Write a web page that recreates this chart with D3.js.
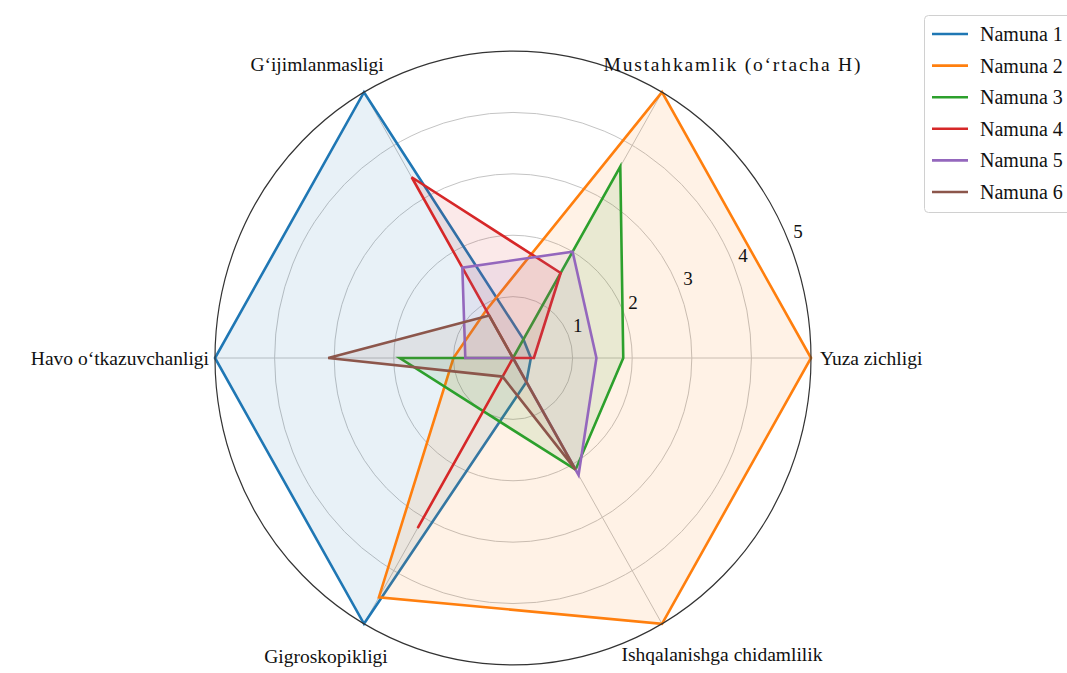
<!DOCTYPE html>
<html>
<head>
<meta charset="utf-8">
<script src="https://cdn.jsdelivr.net/npm/d3@7"></script>
<style>
  body { margin: 0; background: #fff; }
  text { font-family: "Liberation Serif", "Times New Roman", serif; fill: #111; }
</style>
</head>
<body>
<script>
// axes (counter-clockwise from the right)
var categories = ['Yuza zichligi', 'Mustahkamlik (o\u2018rtacha H)', 'G\u2018ijimlanmasligi',
                  'Havo o\u2018tkazuvchanligi', 'Gigroskopikligi', 'Ishqalanishga chidamlilik'];
var seriesNames = ['Namuna 1', 'Namuna 2', 'Namuna 3', 'Namuna 4', 'Namuna 5', 'Namuna 6'];
var namuna1 = [0.3, 0.35, 5, 5, 5, 0.45];
var namuna2 = [5, 5, 0.9, 1.0, 4.5, 5];
var namuna3 = [1.85, 3.6, 0, 1.9, 1.0, 2.1];
var namuna4 = [0.35, 1.6, 3.4, 0, 3.2, 0];
var namuna5 = [1.4, 2.0, 1.7, 0.8, 0, 2.2];
var namuna6 = [0, 0, 0.8, 3.1, 0.35, 2.1];
var ticks = [1, 2, 3, 4, 5];
var colors = ['#1f77b4', '#ff7f0e', '#2ca02c', '#d62728', '#9467bd', '#8c564b'];

var series = [namuna1, namuna2, namuna3, namuna4, namuna5, namuna6];

var w = 1067, h = 673,
    cx = 513, cy = 358,
    ky = 1.03; // picture is a little taller than wide

var svg = d3.select('body').append('svg')
  .attr('width', w).attr('height', h);

var r = d3.scaleLinear().domain([0, 5]).range([0, 298]);

function angle(i) { return i * Math.PI / 3; }
function px(v, i) { return cx + r(v) * Math.cos(angle(i)); }
function py(v, i) { return cy - r(v) * Math.sin(angle(i)) * ky; }

// grid
var grid = svg.append('g');
grid.selectAll('ellipse.ring')
  .data(ticks.slice(0, -1))
  .enter().append('ellipse')
  .attr('cx', cx).attr('cy', cy)
  .attr('rx', function(d) { return r(d); })
  .attr('ry', function(d) { return r(d) * ky; })
  .attr('fill', 'none')
  .attr('stroke', '#c4c4c4')
  .attr('stroke-width', 1);

grid.selectAll('line.spoke')
  .data(categories)
  .enter().append('line')
  .attr('x1', cx).attr('y1', cy)
  .attr('x2', function(d, i) { return px(5, i); })
  .attr('y2', function(d, i) { return py(5, i); })
  .attr('stroke', '#c4c4c4')
  .attr('stroke-width', 1);

// polygons
var line = d3.line()
  .x(function(d) { return px(d.v, d.i); })
  .y(function(d) { return py(d.v, d.i); })
  .curve(d3.curveLinearClosed);

series.forEach(function(vals, s) {
  var pts = vals.map(function(v, i) { return { v: v, i: i }; });
  svg.append('path')
    .attr('d', line(pts))
    .attr('fill', colors[s])
    .attr('fill-opacity', 0.1)
    .attr('stroke', 'none');
  svg.append('path')
    .attr('d', line(pts))
    .attr('fill', 'none')
    .attr('stroke', colors[s])
    .attr('stroke-width', 2.6)
    .attr('stroke-linejoin', 'miter');
});

// outer spine
svg.append('ellipse')
  .attr('cx', cx).attr('cy', cy)
  .attr('rx', r(5)).attr('ry', r(5) * ky)
  .attr('fill', 'none')
  .attr('stroke', '#333')
  .attr('stroke-width', 1.2);

// radial tick labels at 22.5 deg
var ta = Math.PI / 8;
svg.selectAll('text.tick')
  .data(ticks)
  .enter().append('text')
  .attr('x', function(d) { return cx + r(d) * Math.cos(ta) + 5; })
  .attr('y', function(d) { return cy - r(d) * Math.sin(ta) * ky - 9; })
  .attr('dominant-baseline', 'central')
  .attr('font-size', 19)
  .text(function(d) { return d; });

// axis labels, nudged from the outer point of each spoke
var labelPlace = [
  { a: 'start', dx: 9, dy: 0 },
  { a: 'middle', dx: 70, dy: -28, len: 257 },
  { a: 'middle', dx: -47, dy: -28 },
  { a: 'end', dx: -6, dy: 0 },
  { a: 'middle', dx: -38, dy: 33 },
  { a: 'middle', dx: 60, dy: 31 }
];
svg.selectAll('text.cat')
  .data(categories)
  .enter().append('text')
  .attr('x', function(d, i) { return px(5, i) + labelPlace[i].dx; })
  .attr('y', function(d, i) { return py(5, i) + labelPlace[i].dy; })
  .attr('text-anchor', function(d, i) { return labelPlace[i].a; })
  .attr('dominant-baseline', 'central')
  .attr('font-size', 19.5)
  .each(function(d, i) {
    if (labelPlace[i].len) {
      d3.select(this).attr('textLength', labelPlace[i].len).attr('lengthAdjust', 'spacing');
    }
  })
  .text(function(d) { return d; });

// legend
var lg = svg.append('g');
lg.append('rect')
  .attr('x', 924.5).attr('y', 15.5)
  .attr('width', 160).attr('height', 197)
  .attr('rx', 4)
  .attr('fill', '#fff')
  .attr('stroke', '#d0d0d0');

var item = lg.selectAll('g.item')
  .data(seriesNames)
  .enter().append('g')
  .attr('transform', function(d, i) { return 'translate(0,' + (34 + i * 31.6) + ')'; });
item.append('line')
  .attr('x1', 932).attr('x2', 968)
  .attr('stroke', function(d, i) { return colors[i]; })
  .attr('stroke-width', 2.6);
item.append('text')
  .attr('x', 980)
  .attr('dominant-baseline', 'central')
  .attr('font-size', 20)
  .text(function(d) { return d; });
</script>
</body>
</html>
